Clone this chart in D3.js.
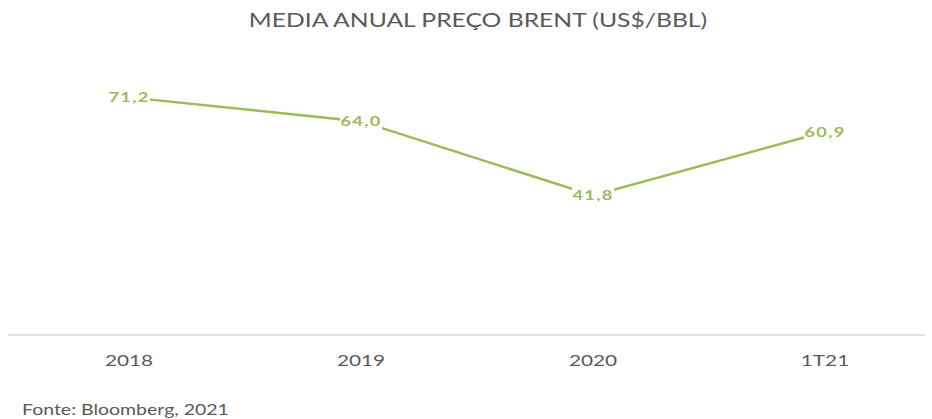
<!DOCTYPE html>
<html>
<head>
<meta charset="utf-8">
<script src="https://cdn.jsdelivr.net/npm/d3@7"></script>
<style>
  body { margin: 0; background: #fff; }
  text { font-family: Lato, "Open Sans", sans-serif; }
</style>
</head>
<body>
<div id="main"></div>
<script>
// chart data
const categories = ["2018", "2019", "2020", "1T21"];
const brentValues = [71.2, 64.0, 41.8, 60.9];
const valueLabels = ["71,2", "64,0", "41,8", "60,9"];

const width = 932, height = 419;
const green = "#9bbb59";
const stretch = "scale(1.3,1)"; // source picture is stretched sideways

const svg = d3.select("#main").append("svg")
    .attr("width", width)
    .attr("height", height);

const x = d3.scaleBand().domain(categories).range([13, 941]);
const y = d3.scaleLinear().domain([0, 80]).range([335, 68]);

// title
svg.append("text")
    .attr("transform", "translate(478,27) " + stretch)
    .attr("text-anchor", "middle")
    .attr("fill", "#595959")
    .style("font-size", "19px")
    .text("MEDIA ANUAL PREÇO BRENT (US$/BBL)");

// category axis
const xAxis = svg.append("g")
    .attr("transform", "translate(0," + y(0) + ")")
    .call(d3.axisBottom(x).tickSize(0).tickPadding(20));
xAxis.select(".domain").attr("d", "M8,0H925").attr("stroke", "#d9d9d9").attr("stroke-width", 1.5);
xAxis.selectAll("text")
    .attr("fill", "#595959")
    .attr("transform", stretch)
    .style("font-family", "Lato, sans-serif")
    .style("font-size", "16px");

const cx = d => x(d) + x.bandwidth() / 2;

// line
const line = d3.line()
    .x((d, i) => cx(categories[i]))
    .y(d => y(d));

svg.append("path")
    .datum(brentValues)
    .attr("fill", "none")
    .attr("stroke", green)
    .attr("stroke-width", 2.5)
    .attr("d", line);

// data labels with white backing
const labels = svg.selectAll(".val")
    .data(brentValues)
    .enter().append("g")
    .attr("transform", (d, i) => "translate(" + cx(categories[i]) + "," + y(d) + ")");

labels.append("rect")
    .attr("x", -21).attr("y", -9)
    .attr("width", 42).attr("height", 18)
    .attr("fill", "#fff");

labels.append("text")
    .attr("text-anchor", "middle")
    .attr("dy", "0.35em")
    .attr("transform", stretch)
    .attr("fill", green)
    .style("font-size", "14px")
    .style("font-weight", "bold")
    .style("letter-spacing", "1px")
    .text((d, i) => valueLabels[i]);

// source
svg.append("text")
    .attr("transform", "translate(22,415) " + stretch)
    .attr("fill", "#595959")
    .style("font-size", "15px")
    .text("Fonte: Bloomberg, 2021");
</script>
</body>
</html>
